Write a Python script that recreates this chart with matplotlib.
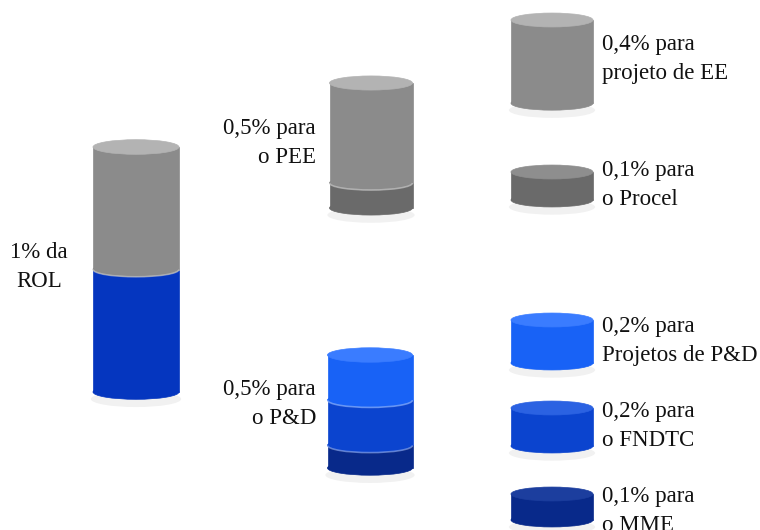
import matplotlib
matplotlib.use("Agg")
import matplotlib.pyplot as plt
from matplotlib.patches import Ellipse, Rectangle, Arc

# ---- data (percent of ROL) ----
total_label = "1% da\nROL"
main_values = [0.5, 0.5]                 # PEE, P&D
main_colors = ["gray", "blue"]
pee_values = [0.4, 0.1]                  # projeto de EE, Procel
pee_colors = ["gray", "darkgray"]
pd_values = [0.2, 0.2, 0.1]              # Projetos P&D, FNDTC, MME
pd_colors = ["brightblue", "midblue", "navy"]
middle_labels = ["0,5% para\no PEE", "0,5% para\no P&D"]
right_values = [0.4, 0.1, 0.2, 0.2, 0.1]
right_colors = ["gray", "darkgray", "brightblue", "midblue", "navy"]
right_labels = ["0,4% para\nprojeto de EE", "0,1% para\no Procel",
                "0,2% para\nProjetos de P&D", "0,2% para\no FNDTC",
                "0,1% para\no MME"]

# ---- style ----
palette = {
    "gray": ("#8b8b8b", "#b3b3b3"),
    "darkgray": ("#6a6a6a", "#8e8e8e"),
    "blue": ("#0536bf", "#2a5ad0"),
    "brightblue": ("#1862f6", "#3a7cff"),
    "midblue": ("#0b44cf", "#2b62e2"),
    "navy": ("#08298a", "#1c3e9e"),
}

fig = plt.figure(figsize=(7.6, 5.3), dpi=100)
ax = fig.add_axes([0, 0, 1, 1])
ax.set_xlim(0, 760)
ax.set_ylim(530, 0)
ax.axis("off")


def cylinder(cx, top, w, values, colors, scale):
    ry = w * 0.085
    bounds = [top]
    for v in values:
        bounds.append(bounds[-1] + v * scale)
    # reflection / shadow
    ax.add_patch(Ellipse((cx, bounds[-1] + 7), w * 1.05, ry * 2.2,
                         color="#f1f1f1", lw=0, zorder=1))
    # draw bottom segment first
    for i in range(len(values) - 1, -1, -1):
        y0, y1 = bounds[i], bounds[i + 1]
        body, light = palette[colors[i]]
        ax.add_patch(Ellipse((cx, y1), w, 2 * ry, facecolor=body,
                             edgecolor=body, lw=0.5, zorder=2))
        ax.add_patch(Rectangle((cx - w / 2, y0), w, y1 - y0, facecolor=body,
                               edgecolor=body, lw=0.5, zorder=2))
        if i < len(values) - 1:
            ax.add_patch(Arc((cx, y1), w, 2 * ry, theta1=0, theta2=180,
                             color="white", alpha=0.35, lw=1.2, zorder=3))
    body, light = palette[colors[0]]
    ax.add_patch(Ellipse((cx, top), w, 2 * ry, facecolor=light,
                         edgecolor=light, lw=0.5, zorder=3))


font = dict(family="Liberation Serif", fontsize=16.5, color="#111111",
            linespacing=1.45)

# main cylinder
cylinder(136, 147, 86, main_values, main_colors, 245)
ax.text(39, 267, total_label, ha="center", va="center",
        multialignment="center", **font)

# middle cylinders
cylinder(371, 83, 83, pee_values, pee_colors, 250)
cylinder(370, 355, 85, pd_values, pd_colors, 226)
ax.text(316, 143, middle_labels[0], ha="right", va="center",
        multialignment="right", **font)
ax.text(316, 404, middle_labels[1], ha="right", va="center",
        multialignment="right", **font)

# right column
right_tops = [20, 172, 320, 408, 494]
right_scales = [208, 280, 215, 190, 260]
right_text_y = [59, 185, 341, 426, 511]
for v, c, lab, t, s, ty in zip(right_values, right_colors, right_labels,
                               right_tops, right_scales, right_text_y):
    cylinder(552, t, 82, [v], [c], s)
    ax.text(602, ty, lab, ha="left", va="center", **font)

fig.savefig("out.png", dpi=100, facecolor="white")
